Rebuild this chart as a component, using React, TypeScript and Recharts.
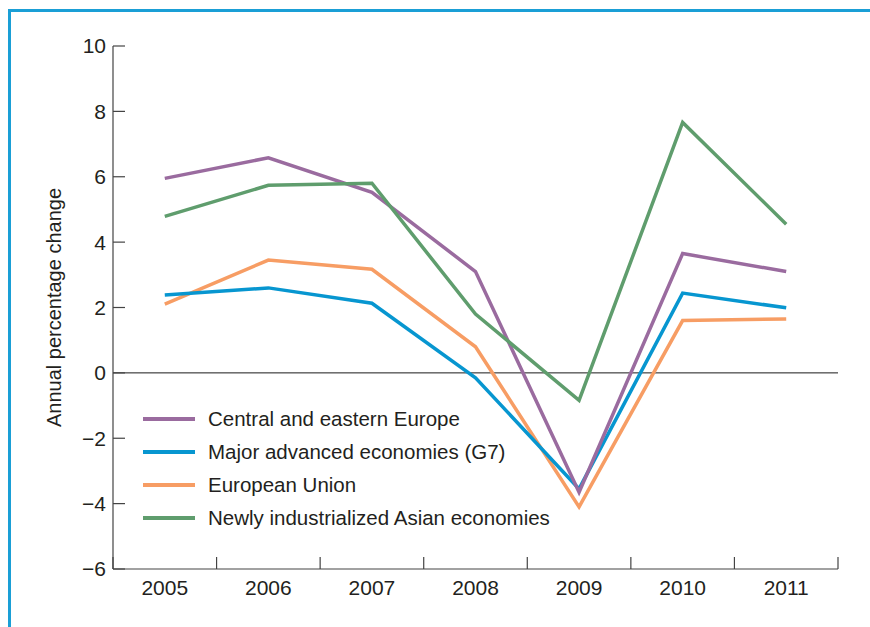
import type { ReactElement } from 'react'
import { LineChart, Line, XAxis, YAxis, ReferenceLine } from 'recharts'

const years = ['2005', '2006', '2007', '2008', '2009', '2010', '2011']
const centralEasternEurope = [5.95, 6.58, 5.52, 3.1, -3.65, 3.65, 3.1]
const majorAdvancedG7 = [2.38, 2.6, 2.13, -0.15, -3.55, 2.44, 1.99]
const europeanUnion = [2.1, 3.45, 3.17, 0.8, -4.1, 1.6, 1.65]
const newlyIndustrializedAsia = [4.79, 5.74, 5.8, 1.8, -0.84, 7.66, 4.55]
const yTicks = [-6, -4, -2, 0, 2, 4, 6, 8, 10]

const series = [
  { key: 'eu', name: 'European Union', values: europeanUnion, color: '#f79d64' },
  { key: 'g7', name: 'Major advanced economies (G7)', values: majorAdvancedG7, color: '#0796d0' },
  { key: 'cee', name: 'Central and eastern Europe', values: centralEasternEurope, color: '#9a6b9f' },
  { key: 'nie', name: 'Newly industrialized Asian economies', values: newlyIndustrializedAsia, color: '#5f9d6d' },
]
const legendOrder = ['cee', 'g7', 'eu', 'nie']

const data = years.map((year, i) => {
  const row: Record<string, string | number> = { year }
  series.forEach((s) => {
    row[s.key] = s.values[i]
  })
  return row
})

const FONT = '"Liberation Sans", Arial, Helvetica, sans-serif'
const TEXT = '#231f20'
const AXIS = '#444'
const PLOT_LEFT = 113
const PLOT_RIGHT = 838
const BAND = (PLOT_RIGHT - PLOT_LEFT) / years.length

function XTick(props: any): ReactElement {
  const { x, y, payload, index } = props
  const axisY = y - 11
  return (
    <g>
      <line x1={x - BAND / 2} x2={x - BAND / 2} y1={axisY} y2={axisY - 12} stroke={AXIS} strokeWidth={1.2} />
      {index === years.length - 1 && (
        <line x1={x + BAND / 2} x2={x + BAND / 2} y1={axisY} y2={axisY - 12} stroke={AXIS} strokeWidth={1.2} />
      )}
      <text x={x} y={y} dy="0.71em" textAnchor="middle" fill={TEXT} fontSize={21} fontFamily={FONT}>
        {payload.value}
      </text>
    </g>
  )
}

export default function App(): ReactElement {
  return (
    <div style={{ position: 'absolute', left: 0, top: 0, width: 870, height: 627, background: '#fff', fontFamily: FONT }}>
      <div
        style={{
          position: 'absolute',
          left: 8,
          top: 9,
          width: 870,
          height: 627,
          borderTop: '3px solid #1a9fd6',
          borderLeft: '3px solid #1a9fd6',
        }}
      />
      <LineChart width={870} height={627} data={data} margin={{ top: 46, right: 870 - PLOT_RIGHT, bottom: 28, left: PLOT_LEFT - 60 }}>
        <XAxis
          dataKey="year"
          height={30}
          padding={{ left: BAND / 2, right: BAND / 2 }}
          axisLine={{ stroke: AXIS, strokeWidth: 1.2 }}
          tickLine={false}
          tickSize={0}
          tickMargin={11}
          tick={<XTick />}
          interval={0}
        />
        <YAxis
          width={60}
          domain={[-6, 10]}
          ticks={yTicks}
          interval={0}
          axisLine={{ stroke: AXIS, strokeWidth: 1.2 }}
          tickLine={{ stroke: AXIS, strokeWidth: 1.2 }}
          tickSize={-12}
          tickMargin={19}
          tick={{ fill: TEXT, fontSize: 21, fontFamily: FONT }}
          tickFormatter={(v: number) => (v < 0 ? `\u2212${Math.abs(v)}` : `${v}`)}
          label={{
            value: 'Annual percentage change',
            angle: -90,
            position: 'insideLeft',
            offset: 1,
            style: { textAnchor: 'middle', fill: TEXT, fontSize: 20, fontFamily: FONT },
          }}
        />
        <ReferenceLine y={0} stroke="#1a1a1a" strokeWidth={1} />
        {series.map((s) => (
          <Line
            key={s.key}
            type="linear"
            dataKey={s.key}
            name={s.name}
            stroke={s.color}
            strokeWidth={3.5}
            dot={false}
            activeDot={false}
            isAnimationActive={false}
          />
        ))}
      </LineChart>
      <div style={{ position: 'absolute', left: 143, top: 402 }}>
        {legendOrder.map((k) => {
          const s = series.find((x) => x.key === k)!
          return (
            <div key={k} style={{ display: 'flex', alignItems: 'center', height: 33 }}>
              <div style={{ width: 52, height: 4, background: s.color, marginRight: 13 }} />
              <span style={{ fontSize: 20.5, color: TEXT, lineHeight: '33px' }}>{s.name}</span>
            </div>
          )
        })}
      </div>
    </div>
  )
}
